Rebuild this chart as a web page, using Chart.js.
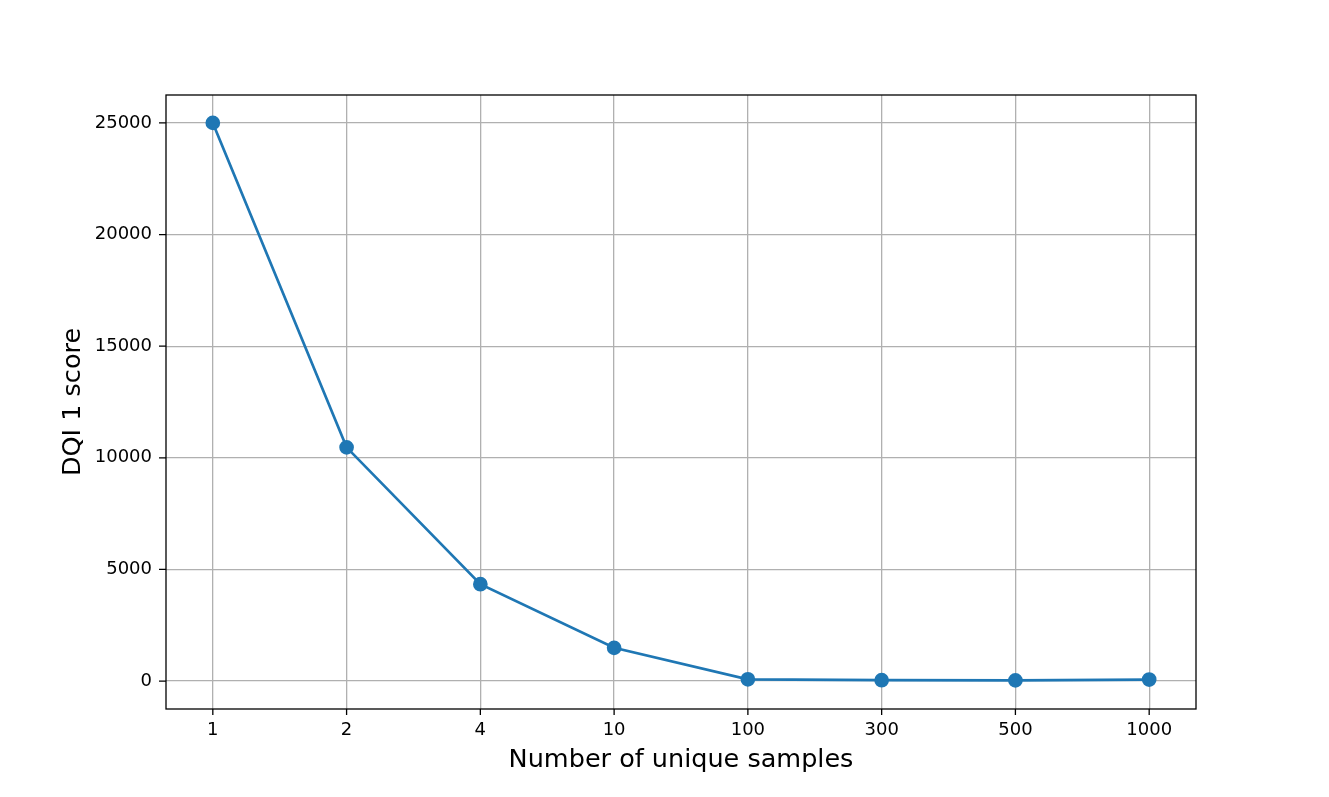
<!DOCTYPE html>
<html>
<head>
<meta charset="utf-8">
<script src="https://cdn.jsdelivr.net/npm/chart.js@4"></script>
<style>
  html, body { margin: 0; padding: 0; background: #fff; }
  #wrap { width: 1329px; height: 797px; }
</style>
</head>
<body>
<div id="wrap"><canvas id="mainChart" width="1329" height="797"></canvas></div>
<script>
// Data
const sampleLabels = ['1', '2', '4', '10', '100', '300', '500', '1000'];
const dqiScores = [25000, 10470, 4340, 1490, 80, 40, 30, 70];
const yTicks = [0, 5000, 10000, 15000, 20000, 25000];

// Draw the box around the plot area and black outward tick marks, like matplotlib
const frame = {
    id: 'frame',
    afterDraw(chart) {
        const a = chart.chartArea;
        const ctx = chart.ctx;
        const xs = chart.scales.x;
        const ys = chart.scales.y;
        ctx.save();
        ctx.strokeStyle = '#000';
        ctx.lineWidth = 1.3;
        ctx.strokeRect(a.left, a.top, a.right - a.left, a.bottom - a.top);
        ctx.beginPath();
        xs.ticks.forEach(t => {
            const px = xs.getPixelForValue(t.value);
            ctx.moveTo(px, a.bottom);
            ctx.lineTo(px, a.bottom + 6);
        });
        ys.ticks.forEach(t => {
            const py = ys.getPixelForValue(t.value);
            ctx.moveTo(a.left, py);
            ctx.lineTo(a.left - 7, py);
        });
        ctx.stroke();
        ctx.restore();
    }
};

const font = "'DejaVu Sans', sans-serif";

new Chart(document.getElementById('mainChart'), {
    type: 'line',
    data: {
        datasets: [{
            data: dqiScores.map((v, i) => ({ x: i, y: v })),
            borderColor: '#1f77b4',
            backgroundColor: '#1f77b4',
            borderWidth: 2.7,
            pointRadius: 6,
            pointHoverRadius: 6,
            tension: 0
        }]
    },
    options: {
        responsive: false,
        animation: false,
        devicePixelRatio: 1,
        layout: { padding: { top: 95, right: 133, left: 0, bottom: 0 } },
        plugins: { legend: { display: false }, tooltip: { enabled: false } },
        scales: {
            x: {
                type: 'linear',
                min: -0.35,
                max: 7.35,
                afterBuildTicks(axis) {
                    axis.ticks = sampleLabels.map((_, i) => ({ value: i }));
                },
                afterFit(axis) { axis.height = 88; },
                ticks: {
                    callback: (v) => sampleLabels[v],
                    color: '#000',
                    font: { family: font, size: 18 },
                    padding: 5,
                    maxRotation: 0
                },
                grid: { color: '#b0b0b0', lineWidth: 1.3, tickColor: '#fff', tickLength: 6 },
                border: { display: false },
                title: {
                    display: true,
                    text: 'Number of unique samples',
                    color: '#000',
                    font: { family: font, size: 25.5 },
                    padding: { top: 0, bottom: 21 }
                }
            },
            y: {
                min: -1250,
                max: 26250,
                afterBuildTicks(axis) {
                    axis.ticks = yTicks.map(v => ({ value: v }));
                },
                afterFit(axis) { axis.width = 166; },
                ticks: {
                    callback: (v) => String(v),
                    color: '#000',
                    font: { family: font, size: 18 },
                    padding: 7
                },
                grid: { color: '#b0b0b0', lineWidth: 1.3, tickColor: '#fff', tickLength: 7 },
                border: { display: false },
                title: {
                    display: true,
                    text: 'DQI 1 score',
                    color: '#000',
                    font: { family: font, size: 25.5 },
                    padding: { top: 58, bottom: 0 }
                }
            }
        }
    },
    plugins: [frame]
});
</script>
</body>
</html>
